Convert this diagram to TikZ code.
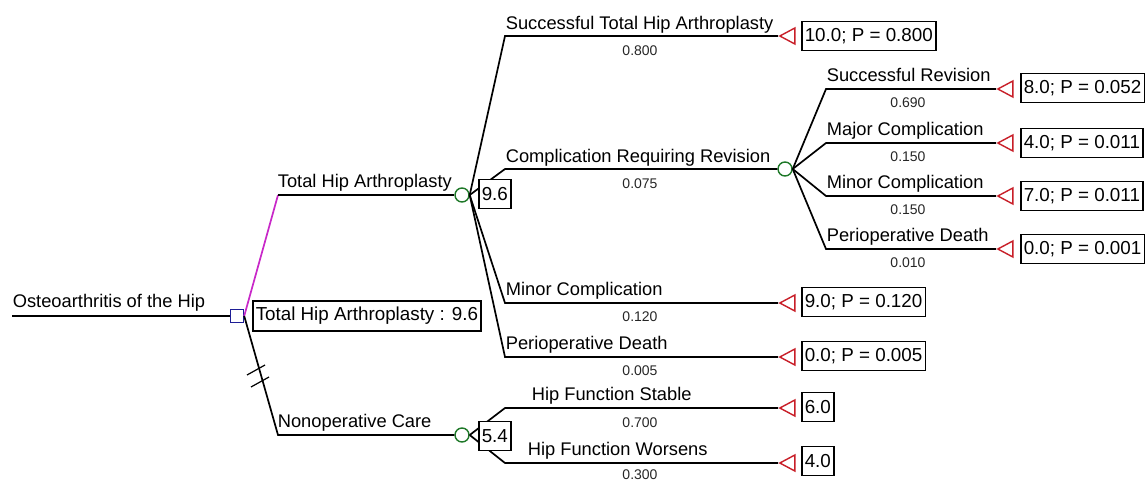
\documentclass[tikz,border=0pt]{standalone}
\usepackage{fontspec}
\setmainfont{Liberation Sans}
\usetikzlibrary{shapes.geometric}
\definecolor{chgreen}{RGB}{30,120,40}
\definecolor{decblue}{RGB}{30,30,150}
\definecolor{termred}{RGB}{200,30,40}
\definecolor{magline}{RGB}{200,40,200}
\begin{document}
\begin{tikzpicture}[x=1pt,y=-1pt,
  line width=1.7pt,
  lbl/.style={anchor=base west, inner sep=0pt, font=\fontsize{18.3}{18}\selectfont},
  prob/.style={anchor=base, inner sep=0pt, text=black!85, font=\fontsize{14}{14}\selectfont},
  valbox/.style={draw, line width=1.5pt, fill=white, anchor=west, inner xsep=3pt, inner ysep=0pt, minimum height=29pt, font=\fontsize{18.8}{18}\selectfont},
  chance/.style={circle, draw=chgreen, line width=1.4pt, fill=white, minimum size=14pt, inner sep=0pt},
  decision/.style={rectangle, draw=decblue, line width=1.4pt, fill=white, minimum size=13pt, inner sep=0pt},
  term/.style={isosceles triangle, shape border rotate=180, isosceles triangle stretches, draw=termred, line width=1.4pt, minimum height=15pt, minimum width=16pt, inner sep=0pt, anchor=apex},
]
\useasboundingbox (0,0) rectangle (1147,482);

% root
\coordinate (r0) at (12,316);
\node[decision] (D) at (237,316) {};
\draw (r0) -- (D.west);
\node[lbl] (tRoot) at (12,307) {Osteoarthritis of the Hip};

% decision branches
\coordinate (a1) at (278,195);
\coordinate (a2) at (278,435);
\node[chance] (C1) at (462,195) {};
\node[chance] (C3) at (462,435) {};
\draw[magline] (D.east) -- (a1);
\draw (a1) -- (C1.west);
\draw (D.east) -- (a2) -- (C3.west);
% double hash marks
\coordinate (h1) at (256,370);
\coordinate (h2) at (260,382);
\draw[line width=1.2pt] ([shift={(-9,5)}]h1) -- ([shift={(9,-5)}]h1);
\draw[line width=1.2pt] ([shift={(-9,5)}]h2) -- ([shift={(9,-5)}]h2);
\node[lbl] (tTHA) at (277,187) {Total Hip Arthroplasty};
\node[lbl] (tNon) at (277,427) {Nonoperative Care};
\node[valbox, minimum height=30pt] (vD) at (252,316) {Total Hip Arthroplasty : 9.6};

% THA chance branches
\coordinate (b1) at (505,36);
\coordinate (b2) at (505,169);
\coordinate (b3) at (505,303);
\coordinate (b4) at (505,357);
\node[term] (T1) at (778,36) {};
\node[chance] (C2) at (785,169) {};
\node[term] (T3) at (778,303) {};
\node[term] (T4) at (778,357) {};
\draw (C1.east) -- (b1) -- (T1.apex);
\draw (C1.east) -- (b2) -- (C2.west);
\draw (C1.east) -- (b3) -- (T3.apex);
\draw (C1.east) -- (b4) -- (T4.apex);
\node[valbox] (vC1) at (478,194) {9.6};
\node[lbl] at (505,29) {Successful Total Hip Arthroplasty};
\node[prob] at (640,55) {0.800};
\node[lbl] at (505,162) {Complication Requiring Revision};
\node[prob] at (640,188) {0.075};
\node[lbl] at (505,295) {Minor Complication};
\node[prob] at (640,321) {0.120};
\node[lbl] at (505,349) {Perioperative Death};
\node[prob] at (640,375) {0.005};
\node[valbox] (v1) at (801,36) {10.0; P = 0.800};
\node[valbox] (v3) at (801,302) {9.0; P = 0.120};
\node[valbox] (v4) at (801,356) {0.0; P = 0.005};

% revision chance branches
\coordinate (c1) at (826,89);
\coordinate (c2) at (826,143);
\coordinate (c3) at (826,196);
\coordinate (c4) at (826,249);
\node[term] (S1) at (996,89) {};
\node[term] (S2) at (996,143) {};
\node[term] (S3) at (996,196) {};
\node[term] (S4) at (996,249) {};
\draw (C2.east) -- (c1) -- (S1.apex);
\draw (C2.east) -- (c2) -- (S2.apex);
\draw (C2.east) -- (c3) -- (S3.apex);
\draw (C2.east) -- (c4) -- (S4.apex);
\node[lbl] at (826,81) {Successful Revision};
\node[prob] at (908,107) {0.690};
\node[lbl] at (826,135) {Major Complication};
\node[prob] at (908,161) {0.150};
\node[lbl] at (826,188) {Minor Complication};
\node[prob] at (908,214) {0.150};
\node[lbl] at (826,241) {Perioperative Death};
\node[prob] at (908,267) {0.010};
\node[valbox] (w1) at (1020,88) {8.0; P = 0.052};
\node[valbox] (w2) at (1020,143) {4.0; P = 0.011};
\node[valbox] (w3) at (1020,196) {7.0; P = 0.011};
\node[valbox] (w4) at (1020,249) {0.0; P = 0.001};

% nonoperative chance branches
\coordinate (d1) at (505,408);
\coordinate (d2) at (505,463);
\node[term] (U1) at (778,408) {};
\node[term] (U2) at (778,463) {};
\draw (C3.east) -- (d1) -- (U1.apex);
\draw (C3.east) -- (d2) -- (U2.apex);
\node[valbox] (vC3) at (478,436) {5.4};
\node[lbl] at (531,400) {Hip Function Stable};
\node[prob] at (640,427) {0.700};
\node[lbl] at (527,455) {Hip Function Worsens};
\node[prob] at (640,479) {0.300};
\node[valbox] (x1) at (801,407) {6.0};
\node[valbox] (x2) at (801,461) {4.0};
\end{tikzpicture}
\end{document}
